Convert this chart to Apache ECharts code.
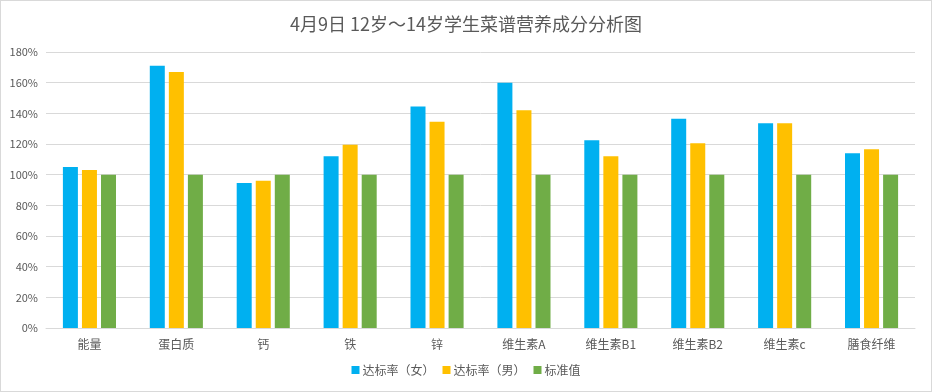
<!DOCTYPE html>
<html>
<head>
<meta charset="utf-8">
<script src="https://cdn.jsdelivr.net/npm/echarts@6/dist/echarts.min.js"></script>
<style>
html,body{margin:0;padding:0;background:#fff;}
#c{width:932px;height:392px;box-sizing:border-box;border:1px solid #d9d9d9;}
</style>
</head>
<body>
<div id="c"></div>
<script>
var titleText = '4月9日 12岁～14岁学生菜谱营养成分分析图';
var categories = ['能量','蛋白质','钙','铁','锌','维生素A','维生素B1','维生素B2','维生素c','膳食纤维'];
var seriesNames = ['达标率（女）','达标率（男）','标准值'];
var female = [105, 171, 94.5, 112, 144.5, 160, 122.5, 136.5, 133.5, 114];
var male = [103, 167, 96, 119.5, 134.5, 142, 112, 120.5, 133.5, 116.5];
var standard = [100, 100, 100, 100, 100, 100, 100, 100, 100, 100];
var yTicks = [0, 20, 40, 60, 80, 100, 120, 140, 160, 180];
var colors = ['#00b0f0', '#ffc000', '#70ad47'];

var chart = echarts.init(document.getElementById('c'), null, {renderer: 'canvas'});
var font = '"Noto Sans CJK SC", "Microsoft YaHei", sans-serif';
function mk(name, data, color) {
  return {
    name: name, type: 'bar', data: data,
    barWidth: 15, barGap: '27%',
    itemStyle: {color: color},
    animation: false
  };
}
chart.setOption({
  animation: false,
  textStyle: {fontFamily: font},
  title: {
    text: titleText, left: 'center', top: 9,
    textStyle: {fontSize: 18, fontWeight: 'normal', color: '#595959', fontFamily: font}
  },
  legend: {
    bottom: 10, left: 'center',
    itemWidth: 8, itemHeight: 8, itemGap: 8,
    icon: 'rect',
    textStyle: {fontSize: 12, color: '#595959', fontFamily: font, padding: [0,0,0,-2]},
    data: seriesNames
  },
  grid: {left: 45, right: 16, top: 51, bottom: 63, containLabel: false},
  xAxis: {
    type: 'category', data: categories,
    axisLine: {lineStyle: {color: '#d9d9d9', width: 1}},
    axisTick: {show: false},
    axisLabel: {color: '#595959', fontSize: 12, margin: 10, fontFamily: font}
  },
  yAxis: {
    type: 'value', min: yTicks[0], max: yTicks[yTicks.length-1], interval: 20,
    axisLine: {show: false}, axisTick: {show: false},
    splitLine: {lineStyle: {color: '#d9d9d9', width: 1}},
    axisLabel: {color: '#595959', fontSize: 11, margin: 8, formatter: '{value}%', fontFamily: font}
  },
  series: [mk(seriesNames[0], female, colors[0]), mk(seriesNames[1], male, colors[1]), mk(seriesNames[2], standard, colors[2])]
});
</script>
</body>
</html>
